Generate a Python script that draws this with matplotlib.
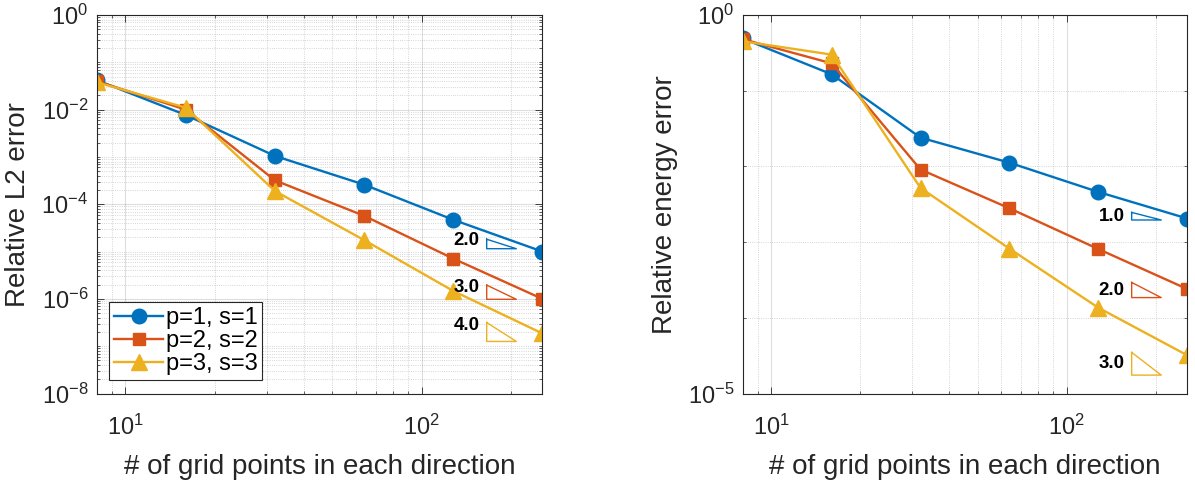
import numpy as np
import matplotlib
matplotlib.use('Agg')
import matplotlib.pyplot as plt
from matplotlib.ticker import LogLocator, FixedLocator, NullFormatter

plt.rcParams['font.family'] = ['Liberation Sans', 'DejaVu Sans']
plt.rcParams['mathtext.fontset'] = 'custom'
plt.rcParams['mathtext.rm'] = 'Liberation Sans'

# grid sizes
n = [8, 16, 32, 64, 128, 256]

# relative L2 error
l2_p1 = [4.2e-2, 7.7e-3, 1.05e-3, 2.6e-4, 4.7e-5, 1.0e-5]
l2_p2 = [4.0e-2, 1.0e-2, 3.2e-4, 5.7e-5, 7.1e-6, 1.0e-6]
l2_p3 = [3.8e-2, 1.1e-2, 1.9e-4, 1.75e-5, 1.47e-6, 1.86e-7]

# relative energy error
en_p1 = [0.49, 0.165, 0.024, 0.0112, 4.6e-3, 2.05e-3]
en_p2 = [0.48, 0.23, 9.1e-3, 2.8e-3, 8.1e-4, 2.4e-4]
en_p3 = [0.45, 0.30, 5.2e-3, 8.2e-4, 1.36e-4, 3.2e-5]

labels = ['p=1, s=1', 'p=2, s=2', 'p=3, s=3']

# slope triangles
tri_x = (166, 209)
l2_slopes = [2.0, 3.0, 4.0]
l2_tri_bottom = [1.15e-5, 9.8e-7, 1.26e-7]
en_slopes = [1.0, 2.0, 3.0]
en_tri_bottom = [1.96e-3, 1.85e-4, 1.75e-5]

colors = ['#0072BD', '#D95319', '#EDB120']
markers = ['o', 's', '^']
msizes = [10.5, 8.5, 11.5]
dark = (0.15, 0.15, 0.15)


def style_axes(ax):
    ax.set_xscale('log')
    ax.set_yscale('log')
    ax.set_xlim(8, 256)
    ax.tick_params(which='both', direction='in', top=True, right=True,
                   colors=dark, labelcolor=dark, labelsize=17)
    ax.tick_params(which='major', length=5, width=0.6)
    ax.tick_params(which='minor', length=2.5, width=0.5)
    ax.tick_params(axis='x', which='major', pad=15)
    ax.tick_params(axis='y', which='major', pad=6)
    for s in ax.spines.values():
        s.set_color(dark)
        s.set_linewidth(0.8)
    ax.grid(True, which='major', color=dark, alpha=0.15, linewidth=0.8)
    ax.grid(True, which='minor', color=dark, alpha=0.25, linestyle=':', linewidth=0.6)
    ax.set_axisbelow(True)
    ax.set_xlabel('# of grid points in each direction', fontsize=20, color=dark)
    ax.xaxis.set_label_coords(0.5, -0.16)


def slope_triangles(ax, slopes, bottoms, frac):
    for s, b, c in zip(slopes, bottoms, colors):
        top = b * (tri_x[1] / tri_x[0]) ** s
        ax.plot([tri_x[0], tri_x[0], tri_x[1], tri_x[0]], [top, b, b, top],
                color=c, linewidth=1.0)
        ly = b * (top / b) ** frac
        ax.annotate(f'{s:.1f}', (tri_x[0], ly), xytext=(-7, 0),
                    textcoords='offset pixels', ha='right', va='center',
                    fontsize=13.5, fontweight='bold', color='black')


fig = plt.figure(figsize=(11.95, 4.86), dpi=100)
ax1 = fig.add_axes([0.0809, 0.1903, 0.3730, 0.7788])
ax2 = fig.add_axes([0.6215, 0.1903, 0.3720, 0.7788])

# left: L2 error
for y, c, m, ms, lab in zip([l2_p1, l2_p2, l2_p3], colors, markers, msizes, labels):
    ax1.plot(n, y, color=c, marker=m, markersize=ms, linewidth=1.7, label=lab)
style_axes(ax1)
ax1.set_ylim(1e-8, 1)
ax1.yaxis.set_major_locator(FixedLocator([1e-8, 1e-6, 1e-4, 1e-2, 1e0]))
ax1.yaxis.set_minor_locator(LogLocator(base=10, subs=np.arange(1, 10), numticks=50))
ax1.yaxis.set_minor_formatter(NullFormatter())
ax1.set_ylabel('Relative L2 error', fontsize=20, color=dark)
ax1.yaxis.set_label_coords(-0.147, 0.5)
slope_triangles(ax1, l2_slopes, l2_tri_bottom, 0.85)
leg = ax1.legend(loc='lower left', bbox_to_anchor=(0.028, 0.036), borderaxespad=0,
                 fontsize=17, fancybox=False, framealpha=1, edgecolor=dark,
                 handlelength=2.1, handletextpad=0.1, labelspacing=0.05,
                 borderpad=0.2)
leg.get_frame().set_linewidth(0.8)
for t in leg.get_texts():
    t.set_color('black')

# right: energy error
for y, c, m, ms in zip([en_p1, en_p2, en_p3], colors, markers, msizes):
    ax2.plot(n, y, color=c, marker=m, markersize=ms, linewidth=1.7)
style_axes(ax2)
ax2.set_ylim(1e-5, 1)
ax2.yaxis.set_major_locator(FixedLocator([1e-5, 1e0]))
ax2.yaxis.set_minor_locator(FixedLocator([1e-4, 1e-3, 1e-2, 1e-1]))
ax2.yaxis.set_minor_formatter(NullFormatter())
ax2.set_ylabel('Relative energy error', fontsize=20, color=dark)
ax2.yaxis.set_label_coords(-0.146, 0.5)
slope_triangles(ax2, en_slopes, en_tri_bottom, 0.5)

fig.savefig('out.png', dpi=100)
